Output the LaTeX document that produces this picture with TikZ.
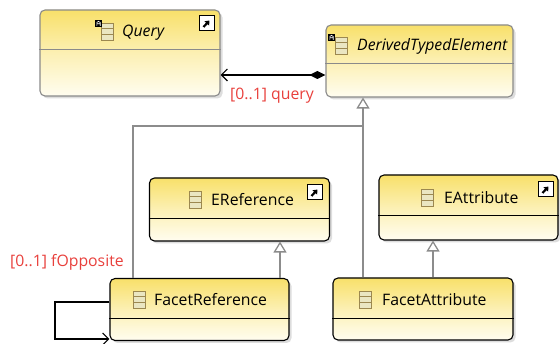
\documentclass[tikz,border=0pt]{standalone}
\usepackage{fontspec}
\setmainfont{Open Sans}
\usetikzlibrary{arrows.meta,shadows}
\definecolor{hdr}{HTML}{F8E06A}
\definecolor{bodyc}{HTML}{FFFDF0}
\definecolor{gbord}{HTML}{8A8A8A}
\definecolor{lblred}{HTML}{E8403C}
\definecolor{genline}{HTML}{8C8C8C}
\definecolor{iconbr}{HTML}{9C8850}
\definecolor{iconfill}{HTML}{EAE6C2}
\tikzset{
  classbox/.style={rectangle, rounded corners=5pt, draw=#1, line width=1.1pt,
    top color=hdr, bottom color=bodyc, middle color=hdr!45!bodyc,
    drop shadow={shadow xshift=2.5pt, shadow yshift=-2.5pt, fill=black!22, opacity=0.6},
    inner sep=0pt},
  titletext/.style={anchor=west, inner sep=0pt, font=\fontsize{15.8}{17}\selectfont},
  lbl/.style={inner sep=0pt, text=lblred, font=\fontsize{15.8}{17}\selectfont},
  divider/.style={line width=1pt, draw=#1},
  genarrow/.style={draw=genline, line width=1.3pt, -{Triangle[open, length=11pt, width=13pt, fill=white]}},
  assoc/.style={draw=black, line width=1.2pt},
  iconbox/.style={draw=iconbr, fill=iconfill, line width=0.8pt}
}
\newcommand{\clsicon}[2]{% x,y top-left
  \draw[iconbox] (#1,#2) rectangle ++(12,17);
  \draw[iconbr, line width=0.8pt] (#1,#2+5.7) -- ++(12,0) (#1,#2+11.3) -- ++(12,0);}
\newcommand{\absmark}[2]{%
  \fill[black] (#1,#2) rectangle ++(7,7);
  \draw[white, line width=0.6pt] (#1+1.8,#2+6) -- (#1+1.8,#2+2.5) -- (#1+3.5,#2+1.3) -- (#1+5.2,#2+2.5) -- (#1+5.2,#2+6) (#1+1.8,#2+3.8) -- (#1+5.2,#2+3.8);}
\newcommand{\shortcut}[2]{%
  \draw[black, fill=white, line width=1pt] (#1,#2) rectangle ++(15,15);
  \draw[black, line width=2.2pt, -{Triangle[length=4pt,width=6pt]}] (#1+4.5,#2+11) -- (#1+10.5,#2+4.5);}
\begin{document}
\begin{tikzpicture}[x=1pt,y=-1pt]
\useasboundingbox (0,0) rectangle (560,344);

% class boxes
\node[classbox=gbord, minimum width=180pt, minimum height=86pt] (query) at (130,53) {};
\node[classbox=gbord, minimum width=187pt, minimum height=72pt] (dte) at (419.5,61) {};
\node[classbox=black, minimum width=180pt, minimum height=63pt] (eref) at (239.5,209.5) {};
\node[classbox=black, minimum width=179pt, minimum height=65pt] (eattr) at (468.5,207.5) {};
\node[classbox=black, minimum width=179pt, minimum height=62pt] (fref) at (199.5,309.5) {};
\node[classbox=black, minimum width=180pt, minimum height=62pt] (fattr) at (423,309) {};

% dividers
\draw[divider=gbord] (query.west |- 0,50) -- (query.east |- 0,50);
\draw[divider=gbord] (dte.west |- 0,64) -- (dte.east |- 0,64);
\draw[divider=black] (eref.west |- 0,219) -- (eref.east |- 0,219);
\draw[divider=black] (eattr.west |- 0,216) -- (eattr.east |- 0,216);
\draw[divider=black] (fref.west |- 0,319) -- (fref.east |- 0,319);
\draw[divider=black] (fattr.west |- 0,319) -- (fattr.east |- 0,319);

% icons and titles
\clsicon{101}{23}\absmark{95}{20}
\node[titletext] (tquery) at (122,33) {\itshape Query};
\shortcut{199}{16}

\clsicon{335}{37}\absmark{328}{34}
\node[titletext] (tdte) at (357,46) {\itshape DerivedTypedElement};

\clsicon{189}{191}
\node[titletext] (teref) at (211,200) {EReference};
\shortcut{307}{185}

\clsicon{421}{189}
\node[titletext] (teattr) at (444,198) {EAttribute};
\shortcut{538}{182}

\clsicon{133}{291}
\node[titletext] (tfref) at (154,300) {FacetReference};

\clsicon{359}{291}
\node[titletext] (tfattr) at (382,300) {FacetAttribute};

% composition query
\coordinate (cq) at (query.east |- 0,75);
\coordinate (cd) at (dte.west |- 0,75);
\draw[assoc, {Diamond[length=16pt,width=8pt,fill=black]}-{Straight Barb[length=6pt,width=12pt]}] (cd) -- (cq);
\node[lbl, anchor=west] (lq) at (230,96) {[0..1] query};

% generalizations
\coordinate (j) at (363,126);
\draw[genarrow] (fattr.north -| 363,0) -- (dte.south -| 363,0);
\draw[draw=genline, line width=1.3pt] (fref.north -| 133,0) |- (j);
\draw[genarrow] (fref.north -| 280,0) -- (eref.south -| 280,0);
\draw[genarrow] (fattr.north -| 433,0) -- (eattr.south -| 433,0);

% self loop fOpposite
\coordinate (l1) at (55,302);
\coordinate (l2) at (55,339);
\draw[assoc, -{Straight Barb[length=6pt,width=12pt]}] (fref.west |- 0,302) -- (l1) -- (l2) -- (fref.west |- 0,339);
\node[lbl, anchor=west] (lf) at (10,262) {[0..1] fOpposite};
\end{tikzpicture}
\end{document}
